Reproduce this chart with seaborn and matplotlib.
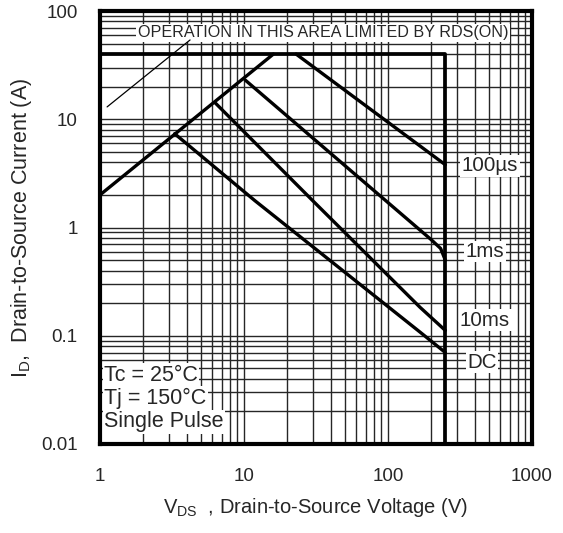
import numpy as np
import pandas as pd
import matplotlib
matplotlib.use('Agg')
import matplotlib.pyplot as plt
import seaborn as sns

# safe operating area curves (V, A)
rds_v = [1, 16]
rds_i = [2.0, 40]
us100_v = [23, 250]
us100_i = [40, 3.8]
ms1_v = [10.2, 200, 232, 250]
ms1_i = [23, 0.77, 0.64, 0.5]
ms10_v = [6.3, 30, 167, 250]
ms10_i = [14.2, 1.77, 0.183, 0.112]
dc_v = [3.3, 11.9, 167, 250]
dc_i = [7.35, 1.77, 0.108, 0.07]

# package limits
limit_v = [1, 250, 250]
limit_i = [40, 40, 0.01]

x_ticks = [1, 10, 100, 1000]
x_labels = ['1', '10', '100', '1000']
y_ticks = [0.01, 0.1, 1, 10, 100]
y_labels = ['0.01', '0.1', '1', '10', '100']

curve_names = ['100\u00b5s', '1ms', '10ms', 'DC']
curve_label_pos = [(511, 3.73), (472, 0.60), (472, 0.139), (450, 0.057)]

sns.set_theme(style='white')
plt.rcParams['font.family'] = ['Liberation Sans', 'DejaVu Sans']
plt.rcParams['mathtext.fontset'] = 'custom'
plt.rcParams['mathtext.rm'] = 'Liberation Sans'

fig = plt.figure(figsize=(5.63, 5.33), dpi=100)
ax = fig.add_axes([100 / 563, 89 / 533, 432 / 563, 433 / 533])
ax.set_xscale('log')
ax.set_yscale('log')
ax.set_xlim(1, 1000)
ax.set_ylim(0.01, 100)

ax.grid(True, which='both', color='0.15', linewidth=1.0)
ax.set_axisbelow(True)

curves = [(rds_v, rds_i), (us100_v, us100_i), (ms1_v, ms1_i),
          (ms10_v, ms10_i), (dc_v, dc_i)]
for v, i in curves:
    df = pd.DataFrame({'V': v, 'I': i})
    sns.lineplot(data=df, x='V', y='I', ax=ax, color='black',
                 linewidth=2.4, sort=False, estimator=None, zorder=4)

lim = pd.DataFrame({'V': limit_v, 'I': limit_i})
sns.lineplot(data=lim, x='V', y='I', ax=ax, color='black',
             linewidth=2.7, sort=False, estimator=None, zorder=4)

# curve labels
for name, (xv, yv) in zip(curve_names, curve_label_pos):
    ax.text(xv, yv, name, ha='center', va='center', fontsize=14.8,
            zorder=5, bbox=dict(facecolor='white', edgecolor='none', pad=1))

# conditions
for txt, yv in zip(['Tc = 25\u00b0C', 'Tj = 150\u00b0C', 'Single Pulse'],
                   [0.0432, 0.0265, 0.0160]):
    ax.text(1.07, yv, txt, ha='left', va='center', fontsize=15.5,
            zorder=5, bbox=dict(facecolor='white', edgecolor='none', pad=1))

ax.text(35.4, 62.7, 'OPERATION IN THIS AREA LIMITED BY RDS(ON)',
        ha='center', va='center', fontsize=11.6, zorder=5,
        bbox=dict(facecolor='white', edgecolor='none', pad=1))
ax.plot([1.12, 4.22], [13.0, 54], color='black', linewidth=0.9, zorder=5)

ax.set_xticks(x_ticks)
ax.set_xticklabels(x_labels)
ax.set_yticks(y_ticks)
ax.set_yticklabels(y_labels)
ax.xaxis.set_minor_formatter(matplotlib.ticker.NullFormatter())
ax.yaxis.set_minor_formatter(matplotlib.ticker.NullFormatter())
ax.tick_params(axis='x', which='both', length=0, pad=17, labelsize=13.5)
ax.tick_params(axis='y', which='major', direction='in', length=13,
               width=2, pad=16, labelsize=13.5, color='black')
ax.tick_params(axis='y', which='minor', length=0)

for s in ax.spines.values():
    s.set_linewidth(3)
    s.set_color('black')
    s.set_visible(True)

ax.set_xlabel(r'V$_{\mathrm{DS}}$  , Drain-to-Source Voltage (V)',
              fontsize=14.5, labelpad=8)
ax.set_ylabel(r'I$_{\mathrm{D}}$,  Drain-to-Source Current (A)',
              fontsize=15.5, labelpad=5)

fig.savefig('out.png', dpi=100)
